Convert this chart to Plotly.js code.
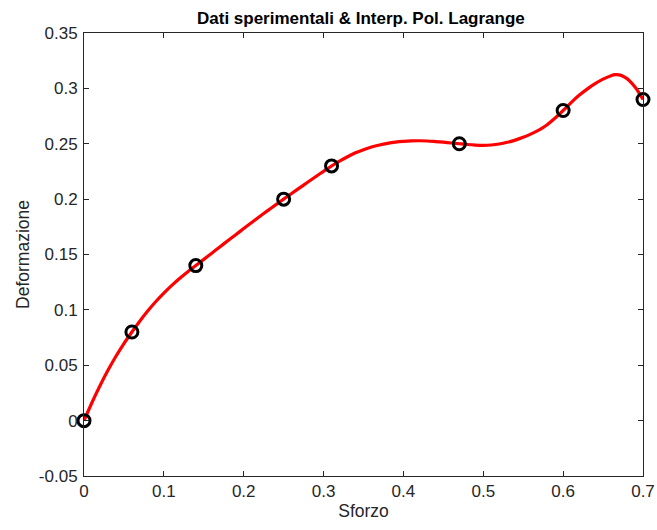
<!DOCTYPE html>
<html>
<head>
<meta charset="utf-8">
<script src="https://cdn.plot.ly/plotly-3.0.1.min.js"></script>
<style>html,body{margin:0;padding:0;background:#fff;}#chart{width:657px;height:530px;}</style>
</head>
<body>
<div id="chart"></div>
<script>
// Experimental data
var sforzo = [0, 0.06, 0.14, 0.25, 0.31, 0.47, 0.60, 0.70];
var deformazione = [0, 0.08, 0.14, 0.20, 0.23, 0.25, 0.28, 0.29];

// Lagrange interpolation curve
var curveX = [0, 0.01, 0.02, 0.03, 0.04, 0.05, 0.06, 0.07, 0.08, 0.09, 0.10,
  0.11, 0.12, 0.13, 0.14, 0.15, 0.16, 0.17, 0.18, 0.19, 0.20,
  0.21, 0.22, 0.23, 0.24, 0.25, 0.26, 0.27, 0.28, 0.29, 0.30,
  0.31, 0.32, 0.33, 0.34, 0.35, 0.36, 0.37, 0.38, 0.39, 0.40,
  0.41, 0.42, 0.43, 0.44, 0.45, 0.46, 0.47, 0.48, 0.49, 0.50,
  0.51, 0.52, 0.53, 0.54, 0.55, 0.56, 0.57, 0.58, 0.59, 0.60,
  0.61, 0.62, 0.63, 0.64, 0.65, 0.66, 0.665, 0.67, 0.675, 0.68, 0.685, 0.69, 0.695, 0.70];
var curveY = [0, 0.0164, 0.0315, 0.0454, 0.0581, 0.0696, 0.0800, 0.0900, 0.0992, 0.1076, 0.1152,
  0.1221, 0.1285, 0.1345, 0.1400, 0.1456, 0.1512, 0.1568, 0.1624, 0.1679, 0.1734,
  0.1789, 0.1843, 0.1896, 0.1948, 0.2000, 0.2051, 0.2102, 0.2152, 0.2202, 0.2251,
  0.2299, 0.2343, 0.2383, 0.2418, 0.2446, 0.2470, 0.2489, 0.2504, 0.2515, 0.2522,
  0.2526, 0.2527, 0.2525, 0.2520, 0.2514, 0.2507, 0.2500, 0.2493, 0.2488, 0.2486,
  0.2489, 0.2498, 0.2513, 0.2533, 0.2558, 0.2589, 0.2625, 0.2672, 0.2732, 0.2800,
  0.2872, 0.2937, 0.2993, 0.3042, 0.3083, 0.3115, 0.3124, 0.3122, 0.3110, 0.3088, 0.3055, 0.3012, 0.2960, 0.2900];

var yTicks = [-0.05, 0, 0.05, 0.1, 0.15, 0.2, 0.25, 0.3, 0.35];
var yTickText = ["-0.05", "0", "0.05", "0.1", "0.15", "0.2", "0.25", "0.3", "0.35"];
var xTicks = [0, 0.1, 0.2, 0.3, 0.4, 0.5, 0.6, 0.7];
var xTickText = ["0", "0.1", "0.2", "0.3", "0.4", "0.5", "0.6", "0.7"];

var axisColor = '#262626';
var fontFam = 'Liberation Sans, Arial, Helvetica, sans-serif';
var traces = [
  {
    x: curveX, y: curveY, type: 'scatter', mode: 'lines',
    line: {color: '#ff0000', width: 3.2, shape: 'spline', smoothing: 0.8},
    hoverinfo: 'none', cliponaxis: false
  },
  {
    x: sforzo, y: deformazione, type: 'scatter', mode: 'markers',
    marker: {symbol: 'circle-open', size: 12, color: '#000000', line: {width: 3, color: '#000000'}},
    cliponaxis: false
  }
];

var axisBase = {
  showgrid: false, zeroline: false, showline: true, mirror: 'ticks',
  linecolor: axisColor, linewidth: 1, ticks: 'inside', ticklen: 5, tickwidth: 1,
  tickcolor: axisColor, tickfont: {family: fontFam, size: 17, color: axisColor},
  tickmode: 'array'
};

var layout = {
  width: 657, height: 530,
  margin: {l: 84, r: 14, t: 33, b: 54},
  paper_bgcolor: '#ffffff', plot_bgcolor: '#ffffff',
  showlegend: false,
  title: {
    text: '<b>Dati sperimentali & Interp. Pol. Lagrange</b>',
    font: {family: fontFam, size: 17, color: '#000000'},
    x: 0.5493, xanchor: 'center', y: 0.966, yanchor: 'middle'
  },
  xaxis: Object.assign({}, axisBase, {
    range: [0, 0.7], tickvals: xTicks, ticktext: xTickText,
    title: {text: 'Sforzo', font: {family: fontFam, size: 17.5, color: axisColor}, standoff: 4}
  }),
  yaxis: Object.assign({}, axisBase, {
    range: [-0.05, 0.35], tickvals: yTicks, ticktext: yTickText, ticklabelstandoff: 2,
    title: {text: 'Deformazione', font: {family: fontFam, size: 17.5, color: axisColor}, standoff: 4}
  })
};

Plotly.newPlot('chart', traces, layout, {displayModeBar: false, staticPlot: true});
</script>
</body>
</html>
